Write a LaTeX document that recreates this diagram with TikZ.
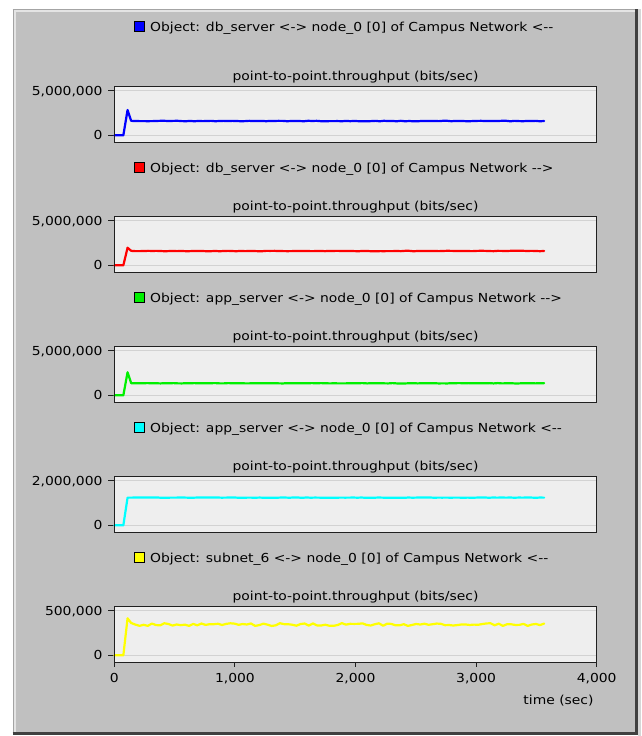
\documentclass[tikz,border=0pt]{standalone}
\usepackage{fontspec}
\setmainfont{DejaVu Sans}[FakeStretch=1.12]
\definecolor{panelgray}{HTML}{C0C0C0}
\definecolor{plotbg}{HTML}{EEEEEE}
\definecolor{gridc}{HTML}{D2D2D2}
\definecolor{edgec}{HTML}{A4A4A4}
\definecolor{hilite}{HTML}{E4E4E4}
\definecolor{darkedge}{HTML}{404040}
\definecolor{axisc}{HTML}{202020}
\definecolor{serblue}{HTML}{0000FF}
\definecolor{serred}{HTML}{FF0000}
\definecolor{sergreen}{HTML}{00F000}
\definecolor{sercyan}{HTML}{00FFFF}
\definecolor{seryellow}{HTML}{FFFF00}
\tikzset{
  ylab/.style={inner sep=0pt, anchor=base east},
  ttl/.style={inner sep=0pt, anchor=base},
  legtxt/.style={inner sep=0pt, anchor=base west},
  legsq/.style={draw=black, line width=0.8pt, minimum size=9.5pt, inner sep=0pt},
  xlab/.style={inner sep=0pt, anchor=base},
  gridline/.style={gridc, line width=1pt},
  axisline/.style={axisc, line width=1pt},
  dataline/.style={line width=2.2pt, line join=round, line cap=round},
}
% #1 = top y of the box, #2 = name prefix, #3 = label of the top grid line
\newcommand\chartback[3]{%
  \fill[plotbg] (114.3,#1) rectangle (596.7,#1+55.6);
  \draw[gridline] (114.3,#1+4) -- (596.7,#1+4);
  \draw[gridline] (114.3,#1+48.6) -- (596.7,#1+48.6);
  \draw[axisline] (108.3,#1+4) -- (114.3,#1+4);
  \draw[axisline] (108.3,#1+48.6) -- (114.3,#1+48.6);
  \node[ylab] (#2top) at (102.7,#1+8.5) {#3};
  \node[ylab] (#2zero) at (102.7,#1+53.1) {0};
  \node[ttl] (#2title) at (355.5,#1-6.5) {point-to-point.throughput (bits/sec)};
}
\newcommand\chartbox[1]{%
  \draw[axisline] (114.3,#1) rectangle (596.7,#1+55.6);
}
\begin{document}
\begin{tikzpicture}[x=1pt,y=-1pt,font=\fontsize{12.4}{14}\selectfont]
\useasboundingbox (0,0) rectangle (641,736);
\fill[white] (0,0) rectangle (641,736);
\fill[hilite!60!panelgray] (638,9) rectangle (641,736);
\fill[panelgray] (12.5,9) rectangle (638,735);
\draw[edgec, line width=1pt] (12.5,9.5) -- (638,9.5);
\draw[edgec, line width=1pt] (13,9) -- (13,735);
\draw[hilite, line width=2pt] (14,11) -- (635,11);
\draw[hilite, line width=2pt] (15,10) -- (15,732);
\draw[darkedge, line width=3pt] (636.5,9) -- (636.5,735);
\draw[darkedge, line width=3pt] (12.5,733.5) -- (638,733.5);

% ---------- chart 1 (blue)
\node[legsq, fill=serblue] (sq1) at (139.3,26.5) {};
\node[legtxt] (leg1) at (150,31) {Object: db\_server <-> node\_0 [0] of Campus Network <-{}-};
\chartback{86.7}{c1}{5,000,000}
\begin{scope}[shift={(114.3,135.3)}, x=0.1206pt, y=8.92pt]
  \pgfmathsetseed{11}
  \draw[dataline, serblue] (0,0) -- (75,0) -- (110,2.84) -- (140,1.62)
    -- plot[domain=175:3564, samples=98] (\x,{1.6+0.03*rand});
\end{scope}
\chartbox{86.7}

% ---------- chart 2 (red)
\node[legsq, fill=serred] (sq2) at (139.3,167.5) {};
\node[legtxt] (leg2) at (150,172) {Object: db\_server <-> node\_0 [0] of Campus Network -{}->};
\chartback{216.7}{c2}{5,000,000}
\begin{scope}[shift={(114.3,265.3)}, x=0.1206pt, y=8.92pt]
  \pgfmathsetseed{23}
  \draw[dataline, serred] (0,0) -- (75,0) -- (110,1.97) -- (140,1.62)
    -- plot[domain=175:3564, samples=98] (\x,{1.6+0.025*rand});
\end{scope}
\chartbox{216.7}

% ---------- chart 3 (green)
\node[legsq, fill=sergreen] (sq3) at (139.3,297.5) {};
\node[legtxt] (leg3) at (150,302) {Object: app\_server <-> node\_0 [0] of Campus Network -{}->};
\chartback{346.7}{c3}{5,000,000}
\begin{scope}[shift={(114.3,395.3)}, x=0.1206pt, y=8.92pt]
  \pgfmathsetseed{37}
  \draw[dataline, sergreen] (0,0) -- (75,0) -- (110,2.58) -- (140,1.36)
    -- plot[domain=175:3564, samples=98] (\x,{1.35+0.02*rand});
\end{scope}
\chartbox{346.7}

% ---------- chart 4 (cyan)
\node[legsq, fill=sercyan] (sq4) at (139.3,427.5) {};
\node[legtxt] (leg4) at (150,432) {Object: app\_server <-> node\_0 [0] of Campus Network <-{}-};
\chartback{476.7}{c4}{2,000,000}
\begin{scope}[shift={(114.3,525.3)}, x=0.1206pt, y=22.3pt]
  \pgfmathsetseed{41}
  \draw[dataline, sercyan] (0,0) -- (75,0) -- (110,1.24)
    -- plot[domain=150:3564, samples=98] (\x,{1.24+0.008*rand});
\end{scope}
\chartbox{476.7}

% ---------- chart 5 (yellow)
\node[legsq, fill=seryellow] (sq5) at (139.3,557.5) {};
\node[legtxt] (leg5) at (150,562) {Object: subnet\_6 <-> node\_0 [0] of Campus Network <-{}-};
\chartback{606.7}{c5}{500,000}
\begin{scope}[shift={(114.3,655.3)}, x=0.1206pt, y=89.2pt]
  \pgfmathsetseed{5}
  \draw[dataline, seryellow] (0,0) -- (75,0) -- (110,0.415) -- (140,0.362)
    -- plot[domain=175:3564, samples=100] (\x,{0.345+0.016*rand});
\end{scope}
\chartbox{606.7}

% x axis of the last chart
\foreach \t in {0,1000,2000,3000,4000}{
  \draw[axisline] ({114.3+0.1206*\t},662.3) -- ({114.3+0.1206*\t},666.5);
}
\node[xlab] (x0) at (114.3,682.5) {0};
\node[xlab] (x1) at (234.9,682.5) {1,000};
\node[xlab] (x2) at (355.5,682.5) {2,000};
\node[xlab] (x3) at (476.1,682.5) {3,000};
\node[xlab] (x4) at (596.7,682.5) {4,000};
\node[xlab] (xt) at (558.5,704.5) {time (sec)};
\end{tikzpicture}
\end{document}
